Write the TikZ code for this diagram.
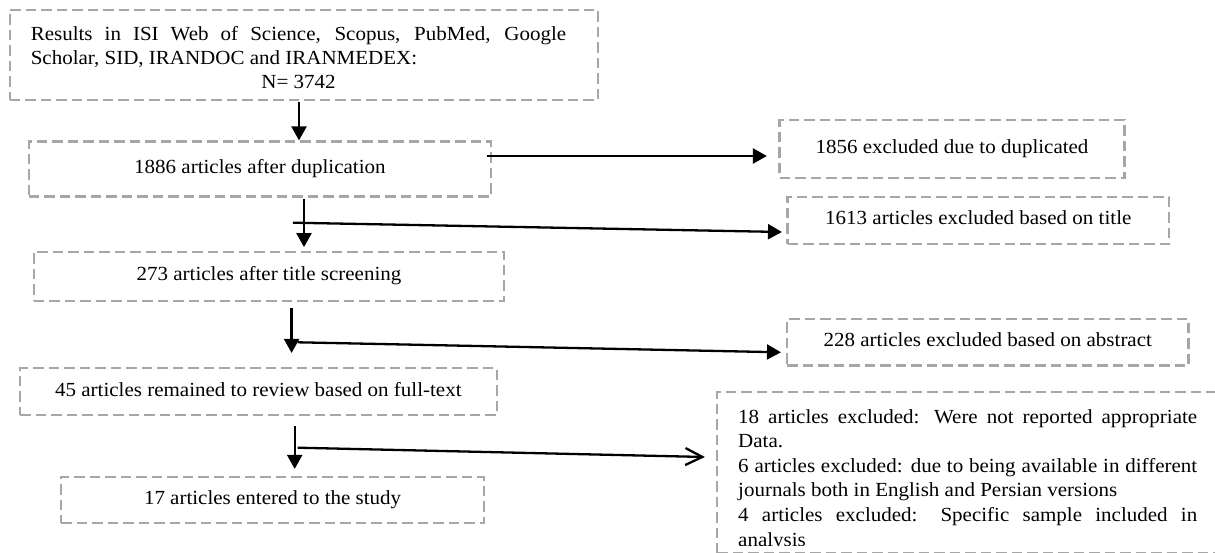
\documentclass[tikz,border=0pt]{standalone}
\usepackage{fontspec}
\setmainfont{Liberation Serif}[FakeStretch=1.05]
\usetikzlibrary{arrows.meta}
\definecolor{boxgray}{HTML}{A6A6A6}
\begin{document}
\begin{tikzpicture}[x=1pt,y=-1pt,
  box/.style={draw=boxgray, line width=2.2pt, dash pattern=on 10.5pt off 5pt, inner sep=0pt,
    text height=13.6pt, text depth=4.4pt, font=\fontsize{20}{23.8}\selectfont},
  txt/.style={inner sep=0pt, font=\fontsize{20}{23.8}\selectfont},
  arr/.style={line width=2.3pt, -{Triangle[length=14pt,width=15pt]}},
  openarr/.style={line width=2.3pt, -{Straight Barb[length=17pt,width=17pt,line width=2.3pt]}}]
\useasboundingbox (0,0) rectangle (1215,553);
\clip (0,0) rectangle (1215,553);

% boxes
\node[box, minimum width=588.4pt, minimum height=90pt] (b1) at (303.8,55) {};
\node[txt, anchor=base west] (t1) at (30.6,41) {\parbox[t]{535.4pt}{%
  \makebox[\linewidth][s]{Results in ISI Web of Science, Scopus, PubMed, Google}\\
  Scholar, SID, IRANDOC and IRANMEDEX:\\
  \makebox[\linewidth]{N= 3742}}};
\node[box, minimum width=462.3pt, minimum height=55pt] (b2) at (259.9,169) {1886 articles after duplication};
\node[box, minimum width=345pt, minimum height=58pt] (b3) at (952,149.3) {1856 excluded due to duplicated};
\node[box, minimum width=381.5pt, minimum height=47.3pt] (b4) at (978.3,220.4) {1613 articles excluded based on title};
\node[box, minimum width=470.7pt, minimum height=49pt] (b5) at (269,276.2) {273 articles after title screening};
\node[box, minimum width=401.5pt, minimum height=46.5pt] (b6) at (987.8,342.3) {228 articles excluded based on abstract};
\node[box, minimum width=476.7pt, minimum height=46.7pt] (b7) at (258.4,391.7) {45 articles remained to review based on full-text};
\node[box, minimum width=422.8pt, minimum height=46pt] (b8) at (272.6,499.7) {17 articles entered to the study};
\node[box, minimum width=518pt, minimum height=161pt] (b9) at (976,472.2) {};
\begin{scope}
\clip (717,392) rectangle (1215,545);
\node[txt, anchor=base west] (t9) at (738,423) {\parbox[t]{459pt}{\fontsize{20}{24.6}\selectfont
  \makebox[\linewidth][s]{18 articles excluded: Were not reported appropriate}\\
  Data.\\
  \makebox[\linewidth][s]{6 articles excluded: due to being available in different}\\
  journals both in English and Persian versions\\
  \makebox[\linewidth][s]{4 articles excluded: Specific sample included in}\\
  analysis}};
\end{scope}

% vertical arrows
\coordinate (a1) at (299,101.7);
\coordinate (a2) at (304,0);
\coordinate (a3) at (291.6,0);
\coordinate (a4) at (294.7,0);
\draw[arr] (a1) -- (b2.north -| a1);
\draw[arr] ([yshift=-1pt]b2.south -| a2) -- ([yshift=3.5pt]b5.north -| a2);
\draw[arr] ([yshift=-6.3pt]b5.south -| a3) -- ([yshift=14.3pt]b7.north -| a3);
\draw[arr] ([yshift=-10pt]b7.south -| a4) -- ([yshift=6.7pt]b8.north -| a4);

% side arrows
\coordinate (s1) at (487,156);
\coordinate (s2) at (292.8,222.7);
\coordinate (s3) at (297.7,342.3);
\coordinate (s4) at (297.7,447.7);
\draw[arr] (s1) -- ([xshift=-11.5pt]b3.west |- s1);
\draw[arr] (s2) -- ([xshift=-4.5pt,yshift=-11.6pt]b4.west);
\draw[arr] (s3) -- ([xshift=-5pt,yshift=-10pt]b6.west);
\draw[openarr] (s4) -- ([xshift=-11pt,yshift=15.2pt]b9.west);
\end{tikzpicture}
\end{document}
